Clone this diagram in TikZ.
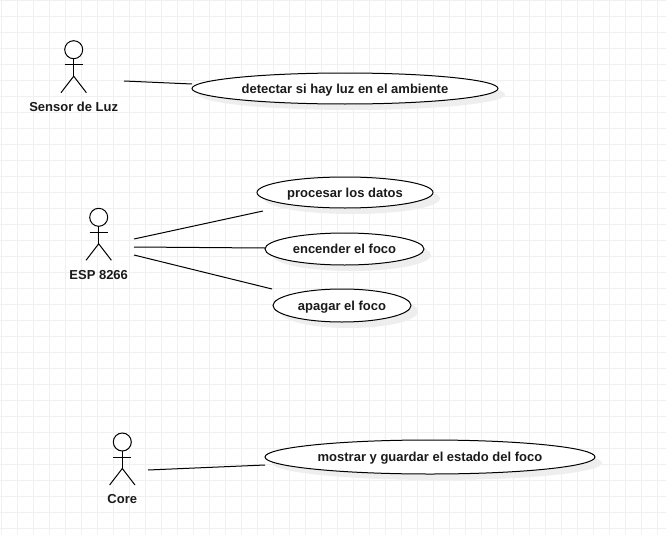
\documentclass[tikz,border=0pt]{standalone}
\usepackage{fontspec}
\setmainfont{Liberation Sans}
\usetikzlibrary{shapes.geometric}
\definecolor{gridc}{HTML}{F0F0F0}
\definecolor{shadowc}{HTML}{EEEEEE}
\definecolor{inkc}{HTML}{000000}
\definecolor{textc}{HTML}{1A1A1A}
\tikzset{
  usecase/.style={ellipse,draw=inkc,fill=white,line width=1pt,inner sep=0pt,
    font=\bfseries\fontsize{13}{15}\selectfont,text=textc,text height=12pt,text depth=3pt},
  usecaseshadow/.style={ellipse,fill=shadowc,inner sep=0pt},
  actorhead/.style={circle,draw=inkc,fill=white,line width=1pt,minimum size=18pt,inner sep=0pt},
  actorline/.style={draw=inkc,line width=1pt},
  actorlabel/.style={font=\bfseries\fontsize{13}{15}\selectfont,text=textc,inner sep=0pt,anchor=center},
  assoc/.style={draw=inkc,line width=1pt},
}
% name, x, y of head centre, label, label y
\newcommand{\umlactor}[5]{%
  \node[actorhead] (#1head) at (#2,#3) {};
  \coordinate (#1neck) at (#2,#3+9);
  \coordinate (#1la) at (#2-9,#3+15);
  \coordinate (#1ra) at (#2+9,#3+15);
  \coordinate (#1hip) at (#2,#3+26.5);
  \coordinate (#1lf) at (#2-12.7,#3+43);
  \coordinate (#1rf) at (#2+12.7,#3+43);
  \draw[actorline] (#1neck) -- (#1hip);
  \draw[actorline] (#1la) -- (#1ra);
  \draw[actorline] (#1lf) -- (#1hip) -- (#1rf);
  \node[actorlabel] (#1label) at (#2,#5) {#4};
}
% name, cx, cy, width, height, text
\newcommand{\usecasenode}[6]{%
  \node[usecaseshadow,minimum width=#4pt,minimum height=#5pt] (#1shadow) at (#2+7,#3+6) {};
  \node[usecase,minimum width=#4pt,minimum height=#5pt] (#1) at (#2,#3) {#6};
}
\begin{document}
\begin{tikzpicture}[x=1pt,y=-1pt]
\useasboundingbox (0,0) rectangle (666,535);
\fill[white] (0,0) rectangle (666,535);
\foreach \i in {0,...,41} \draw[gridc,line width=1pt] ({1.5+16*\i},0) -- ({1.5+16*\i},535);
\foreach \j in {0,...,33} \draw[gridc,line width=1pt] (0,{0.5+16*\j}) -- (666,{0.5+16*\j});

\umlactor{sensor}{73.7}{49.7}{Sensor de Luz}{106.8}
\umlactor{esp}{98.7}{217.3}{ESP 8266}{274.8}
\umlactor{core}{122.3}{442}{Core}{498.8}

\usecasenode{detectar}{345}{88.5}{306}{31}{detectar si hay luz en el ambiente}
\usecasenode{procesar}{345}{192.5}{176}{31}{procesar los datos}
\usecasenode{encender}{344.5}{249}{159}{32}{encender el foco}
\usecasenode{apagar}{342}{305.5}{138}{33}{apagar el foco}
\usecasenode{mostrar}{430}{457}{330}{34}{mostrar y guardar el estado del foco}

\coordinate (s1) at (124,81);
\coordinate (d1) at (192,84);
\coordinate (e1) at (134,239);
\coordinate (e2) at (134,247);
\coordinate (e3) at (134,255);
\coordinate (p1) at (263,211);
\coordinate (n1) at (265,248);
\coordinate (a1) at (272,289);
\coordinate (c1) at (148,470);
\coordinate (m1) at (265,465);
\draw[assoc] (s1) -- (d1);
\draw[assoc] (e1) -- (p1);
\draw[assoc] (e2) -- (n1);
\draw[assoc] (e3) -- (a1);
\draw[assoc] (c1) -- (m1);
\end{tikzpicture}
\end{document}
